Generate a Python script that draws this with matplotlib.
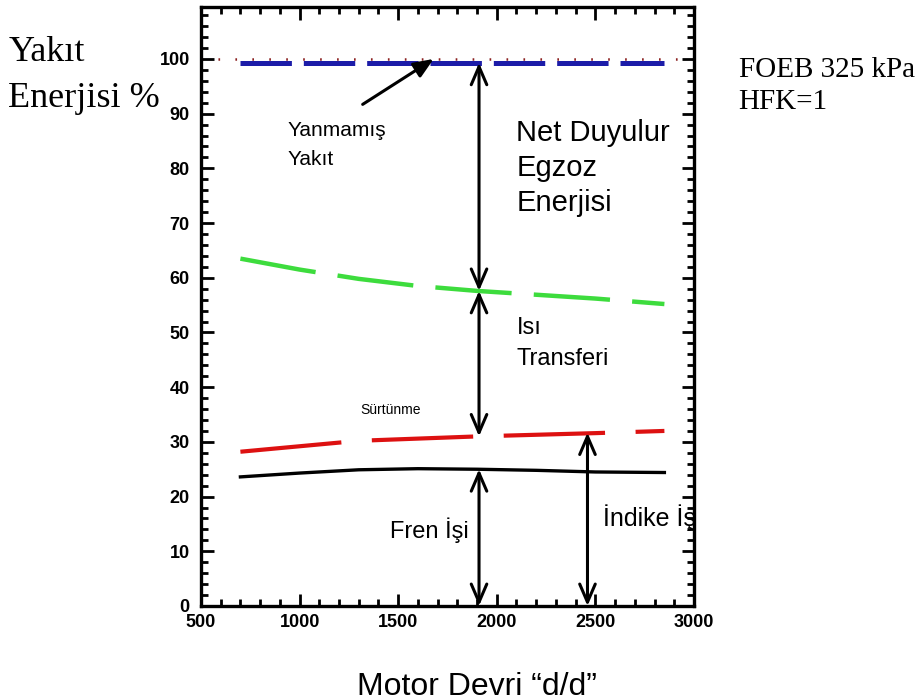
import matplotlib
matplotlib.use("Agg")
import matplotlib.pyplot as plt
from matplotlib.ticker import MultipleLocator

# engine speed (rpm) and energy shares as % of fuel energy
rpm = [700, 1000, 1300, 1600, 1900, 2200, 2500, 2850]
brake_work = [23.6, 24.3, 24.9, 25.1, 25.0, 24.8, 24.5, 24.4]
indicated_work = [28.2, 29.2, 30.2, 30.6, 31.0, 31.3, 31.6, 32.0]
heat_transfer_top = [63.5, 61.5, 59.8, 58.5, 57.6, 56.9, 56.2, 55.2]
burned_fuel = [99.3, 99.3, 99.3, 99.3, 99.3, 99.3, 99.3, 99.3]
fuel_total_x = [500, 3000]
fuel_total = [100, 100]

# arrow positions (rpm) and end values
arrow_rpm = 1910
arrow_rpm2 = 2460

plt.rcParams["lines.scale_dashes"] = False
sans = ["Liberation Sans", "DejaVu Sans"]
serif = ["Liberation Serif", "DejaVu Serif"]

fig = plt.figure(figsize=(9.21, 7.0), dpi=100)
ax = fig.add_axes([0.2182, 0.1343, 0.5353, 0.8557])

ax.plot(fuel_total_x, fuel_total, color="#8b2020", lw=1.8,
        linestyle=(0, (1.2, 11)), zorder=1)
ax.plot(rpm, burned_fuel, color="#1c1ca8", lw=3.6,
        linestyle=(0, (37, 8.6)), zorder=2, solid_capstyle="butt")
ax.plot(rpm, heat_transfer_top, color="#3ddc3d", lw=3.2,
        linestyle=(0, (55, 16)), zorder=2)
ax.plot(rpm, indicated_work, color="#dd1111", lw=3.0,
        linestyle=(0, (73, 22)), zorder=2)
ax.plot(rpm, brake_work, color="black", lw=2.4, zorder=2)

ax.set_xlim(500, 3000)
ax.set_ylim(0, 109.5)
ax.xaxis.set_major_locator(MultipleLocator(500))
ax.xaxis.set_minor_locator(MultipleLocator(100))
ax.set_yticks(range(0, 101, 10))
ax.yaxis.set_minor_locator(MultipleLocator(2))
ax.tick_params(which="both", direction="in", top=True, right=True, width=2)
ax.tick_params(which="major", length=9)
ax.tick_params(which="minor", length=5)
ax.tick_params(axis="y", pad=8)
ax.tick_params(axis="x", pad=6)
for lbl in ax.get_xticklabels() + ax.get_yticklabels():
    lbl.set_fontfamily(sans)
    lbl.set_fontweight("bold")
    lbl.set_fontsize(13)
for sp in ax.spines.values():
    sp.set_linewidth(2.4)

dbl = dict(arrowstyle="<->, head_length=0.65, head_width=0.28",
           lw=2.2, color="black", shrinkA=0, shrinkB=0, mutation_scale=20)
ax.annotate("", xy=(arrow_rpm, burned_fuel[4]), xytext=(arrow_rpm, heat_transfer_top[4]),
            arrowprops=dbl)
ax.annotate("", xy=(arrow_rpm, heat_transfer_top[4]), xytext=(arrow_rpm, indicated_work[4]),
            arrowprops=dbl)
ax.annotate("", xy=(arrow_rpm, brake_work[4]), xytext=(arrow_rpm, 0),
            arrowprops=dbl)
ax.annotate("", xy=(arrow_rpm2, 31.7), xytext=(arrow_rpm2, 0),
            arrowprops=dbl)
ax.annotate("", xy=(1680, 100), xytext=(1320, 91.7),
            arrowprops=dict(arrowstyle="-|>, head_length=0.6, head_width=0.25",
                            lw=2.2, color="black", shrinkA=0, shrinkB=0,
                            mutation_scale=20))

ax.text(940, 84.3, "Yanmamış\nYakıt", family=sans, fontsize=15,
        ha="left", va="center", linespacing=1.65)
ax.text(2100, 80.1, "Net Duyulur\nEgzoz\nEnerjisi", family=sans, fontsize=21,
        ha="left", va="center", linespacing=1.32)
ax.text(2100, 48.0, "Isı\nTransferi", family=sans, fontsize=17,
        ha="left", va="center", linespacing=1.5)
ax.text(1460, 35.8, "Sürtünme", family=sans, fontsize=10,
        ha="center", va="center")
ax.text(1660, 13.8, "Fren İşi", family=sans, fontsize=17,
        ha="center", va="center")
ax.text(2540, 16.2, "İndike İş", family=sans, fontsize=18,
        ha="left", va="center")

fig.text(0.009, 0.892, "Yakıt\nEnerjisi %", family=serif, fontsize=26,
         ha="left", va="center", linespacing=1.5)
fig.text(0.802, 0.877, "FOEB 325 kPa\nHFK=1", family=serif, fontsize=21,
         ha="left", va="center", linespacing=1.3)
fig.text(0.518, 0.019, "Motor Devri \u201cd/d\u201d", family=sans, fontsize=23,
         ha="center", va="center")

fig.savefig("out.png", dpi=100)
